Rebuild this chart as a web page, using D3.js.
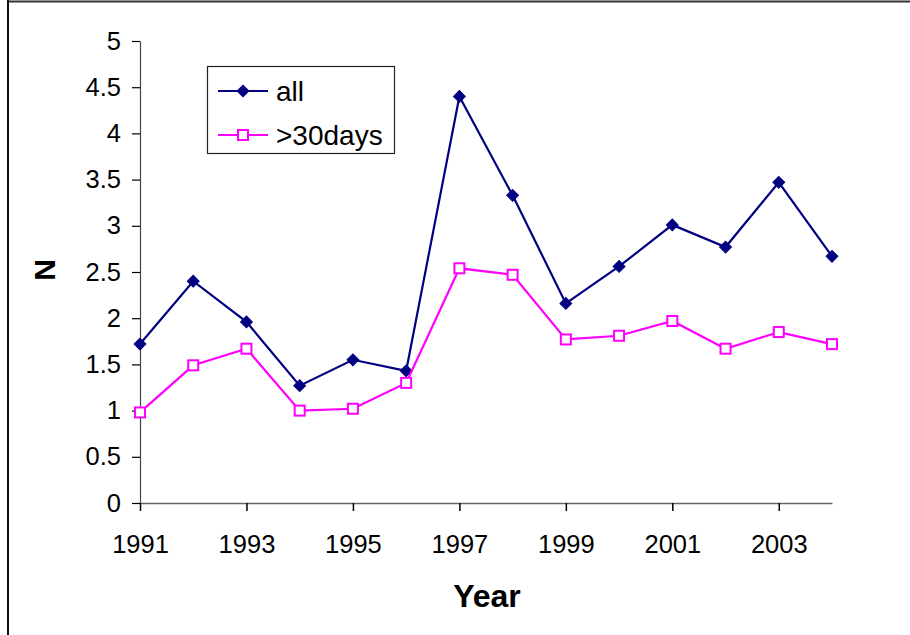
<!DOCTYPE html>
<html>
<head>
<meta charset="utf-8">
<script src="https://cdn.jsdelivr.net/npm/d3@7"></script>
<style>
  html, body { margin: 0; padding: 0; background: #fff; }
  svg { display: block; font-family: "Liberation Sans", Arial, sans-serif; }
</style>
</head>
<body>
<svg id="chart" width="910" height="635"></svg>
<script>
const years = [1991,1992,1993,1994,1995,1996,1997,1998,1999,2000,2001,2002,2003,2004];
const allValues = [1.72,2.40,1.96,1.27,1.55,1.43,4.40,3.33,2.16,2.56,3.01,2.77,3.47,2.67];
const over30Values = [0.98,1.49,1.67,1.00,1.02,1.30,2.54,2.47,1.77,1.81,1.97,1.67,1.85,1.72];
const yTicks = [0,0.5,1,1.5,2,2.5,3,3.5,4,4.5,5];
const xTickYears = [1991,1993,1995,1997,1999,2001,2003];
const seriesNames = ["all", ">30days"];

const svg = d3.select("#chart");

// outer frame (top and left edges)
svg.append("line").attr("x1", 8).attr("x2", 910).attr("y1", 1.5).attr("y2", 1.5)
  .attr("stroke", "#333").attr("stroke-width", 2);
svg.append("line").attr("x1", 8).attr("x2", 8).attr("y1", 0).attr("y2", 635)
  .attr("stroke", "#111").attr("stroke-width", 2);

const x = d3.scalePoint().domain(years).range([140, 832]);
const y = d3.scaleLinear().domain([0, 5]).range([503, 41]);

const fs = 25.5;

// Y axis
const yAxis = svg.append("g").attr("transform", "translate(140,0)")
  .call(d3.axisLeft(y).tickValues(yTicks).tickSize(8).tickSizeOuter(0).tickPadding(11)
        .tickFormat(d => String(d)));
yAxis.select(".domain").attr("stroke", "#444").attr("stroke-width", 1.2);
yAxis.selectAll(".tick line").attr("stroke", "#000").attr("stroke-width", 1.2);
yAxis.selectAll(".tick text").attr("font-size", fs).attr("fill", "#000")
  .attr("font-family", "Liberation Sans, Arial, sans-serif");

// X axis
const xAxis = svg.append("g").attr("transform", "translate(0,503)")
  .call(d3.axisBottom(x).tickValues(xTickYears).tickSize(8).tickSizeOuter(0).tickPadding(24)
        .tickFormat(d => String(d)));
xAxis.select(".domain").attr("stroke", "#666").attr("stroke-width", 1.5);
xAxis.selectAll(".tick line").attr("stroke", "#000").attr("stroke-width", 1.5);
xAxis.selectAll(".tick text").attr("font-size", fs).attr("fill", "#000")
  .attr("font-family", "Liberation Sans, Arial, sans-serif");

// Axis titles
svg.append("text").attr("x", 487).attr("y", 607).attr("text-anchor", "middle")
  .attr("font-size", 32).attr("font-weight", "bold").text("Year");
svg.append("text").attr("transform", "translate(55,270) rotate(-90)")
  .attr("text-anchor", "middle").attr("font-size", 30).attr("font-weight", "bold").text("N");

const line = d3.line().x((d, i) => x(years[i])).y(d => y(d));

const navy = "#000080", magenta = "#FF00FF";

// series all
svg.append("path").datum(allValues).attr("d", line)
  .attr("fill", "none").attr("stroke", navy).attr("stroke-width", 2.2);
svg.append("g").selectAll("path").data(allValues).join("path")
  .attr("transform", (d, i) => `translate(${x(years[i])},${y(d)}) rotate(45)`)
  .attr("d", d3.symbol().type(d3.symbolSquare).size(70)())
  .attr("fill", navy).attr("stroke", navy).attr("stroke-width", 1);

// series >30days
svg.append("path").datum(over30Values).attr("d", line)
  .attr("fill", "none").attr("stroke", magenta).attr("stroke-width", 2.2);
svg.append("g").selectAll("rect").data(over30Values).join("rect")
  .attr("x", (d, i) => x(years[i]) - 5).attr("y", d => y(d) - 5)
  .attr("width", 10).attr("height", 10)
  .attr("fill", "#fff").attr("stroke", magenta).attr("stroke-width", 2);

// Legend
const lg = svg.append("g");
lg.append("rect").attr("x", 207.5).attr("y", 66.5).attr("width", 187).attr("height", 87)
  .attr("fill", "#fff").attr("stroke", "#222").attr("stroke-width", 1.2);
const rows = [
  {name: seriesNames[0], color: navy, y: 91},
  {name: seriesNames[1], color: magenta, y: 135}
];
rows.forEach((r, i) => {
  lg.append("line").attr("x1", 218).attr("x2", 268).attr("y1", r.y).attr("y2", r.y)
    .attr("stroke", r.color).attr("stroke-width", 2);
  if (i === 0) {
    lg.append("path").attr("transform", `translate(243,${r.y}) rotate(45)`)
      .attr("d", d3.symbol().type(d3.symbolSquare).size(70)())
      .attr("fill", navy).attr("stroke", navy);
  } else {
    lg.append("rect").attr("x", 238).attr("y", r.y - 5).attr("width", 10).attr("height", 10)
      .attr("fill", "#fff").attr("stroke", magenta).attr("stroke-width", 2);
  }
  lg.append("text").attr("x", 276).attr("y", r.y).attr("dy", "0.36em")
    .attr("font-size", 28).attr("fill", "#000").text(r.name);
});
</script>
</body>
</html>
